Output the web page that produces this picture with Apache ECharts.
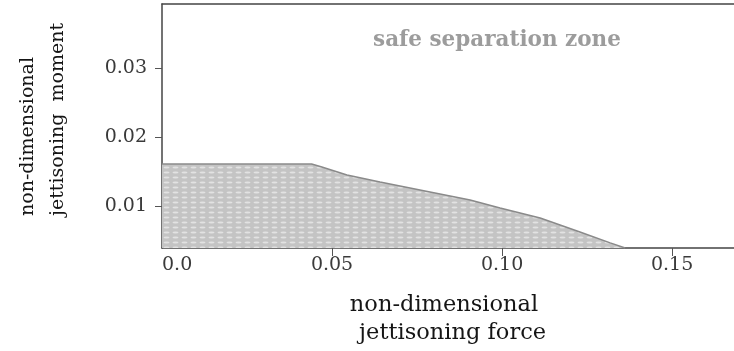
<!DOCTYPE html>
<html>
<head>
<meta charset="utf-8">
<script src="https://cdn.jsdelivr.net/npm/echarts@6/dist/echarts.min.js"></script>
<style>html,body{margin:0;padding:0;background:#fff;}#c{width:734px;height:351px;}</style>
</head>
<body>
<div id="c"></div>
<script>
// boundary of the jettisoning region (force, moment)
const forceValues  = [0.0, 0.044, 0.047, 0.0544, 0.0641, 0.0788, 0.0906, 0.0994, 0.1112, 0.1229, 0.1318, 0.1362];
const momentValues = [0.0161, 0.0161, 0.01565, 0.01449, 0.01348, 0.01203, 0.01087, 0.00971, 0.00826, 0.00623, 0.00464, 0.0039];
const xTickValues = [0, 0.05, 0.10, 0.15];
const xTickLabels = ['0.0', '0.05', '0.10', '0.15'];
const yTickValues = [0.01, 0.02, 0.03];
const yTickLabels = ['0.01', '0.02', '0.03'];
const zoneLabel = 'safe separation zone';
const xTitle = ['non-dimensional', ' jettisoning force'];
const yTitle = 'non-dimensional\njettisoning  moment';

// hatched texture for the filled region
const pat = document.createElement('canvas');
pat.width = 9; pat.height = 5;
const pc = pat.getContext('2d');
pc.fillStyle = '#c4c4c4'; pc.fillRect(0, 0, 9, 5);
pc.fillStyle = '#e2e2e2';
pc.beginPath(); pc.ellipse(4.5, 2.5, 3, 1, 0, 0, Math.PI * 2); pc.fill();

const chart = echarts.init(document.getElementById('c'));
const axisColor = '#444';
chart.setOption({
  animation: false,
  grid: { left: 162, right: 0, top: 4, bottom: 103, containLabel: false },
  xAxis: [{
    type: 'value', min: 0, max: 0.1682,
    axisLine: { show: true, lineStyle: { color: axisColor, width: 1.5 } },
    axisTick: { show: true, length: 8, customValues: xTickValues.slice(1), lineStyle: { color: '#555' } },
    axisLabel: {
      customValues: xTickValues, margin: 8, alignMinLabel: 'left',
      fontFamily: 'DejaVu Serif', fontSize: 19, color: '#3a3a3a',
      formatter: v => { const i = xTickValues.findIndex(t => Math.abs(t - v) < 1e-9); return i >= 0 ? xTickLabels[i] : ''; }
    },
    splitLine: { show: false }
  }, {
    type: 'value', position: 'top', min: 0, max: 0.1682,
    axisLine: { show: true, lineStyle: { color: axisColor, width: 1.5 } },
    axisTick: { show: false }, axisLabel: { show: false }, splitLine: { show: false }
  }],
  yAxis: {
    type: 'value', min: 0.0039, max: 0.0393,
    axisLine: { show: true, lineStyle: { color: axisColor, width: 1.5 } },
    axisTick: { show: true, length: 7, customValues: yTickValues, lineStyle: { color: '#555' } },
    axisLabel: {
      customValues: yTickValues, margin: 15,
      fontFamily: 'DejaVu Serif', fontSize: 19, color: '#3a3a3a',
      formatter: v => { const i = yTickValues.findIndex(t => Math.abs(t - v) < 1e-9); return i >= 0 ? yTickLabels[i] : ''; }
    },
    splitLine: { show: false }
  },
  series: [{
    type: 'line',
    data: forceValues.map((f, i) => [f, momentValues[i]]),
    showSymbol: false,
    lineStyle: { color: '#8a8a8a', width: 1.5 },
    areaStyle: { color: { image: pat, repeat: 'repeat' }, opacity: 1 },
    z: 1
  }],
  graphic: [
    { type: 'text', x: 497, y: 40, style: { text: zoneLabel, font: 'bold 21.5px "DejaVu Serif"', fill: '#9c9c9c', align: 'center', verticalAlign: 'middle' } },
    { type: 'text', x: 444, y: 305, style: { text: xTitle[0], font: '22.5px "DejaVu Serif"', fill: '#151515', align: 'center', verticalAlign: 'middle' } },
    { type: 'text', x: 449, y: 333, style: { text: xTitle[1], font: '22.5px "DejaVu Serif"', fill: '#151515', align: 'center', verticalAlign: 'middle' } },
    { type: 'text', x: 43, y: 216, rotation: Math.PI / 2, style: { text: yTitle, font: '19px "DejaVu Serif"', lineHeight: 30, fill: '#151515', align: 'left', verticalAlign: 'middle' } }
  ]
});
</script>
</body>
</html>
